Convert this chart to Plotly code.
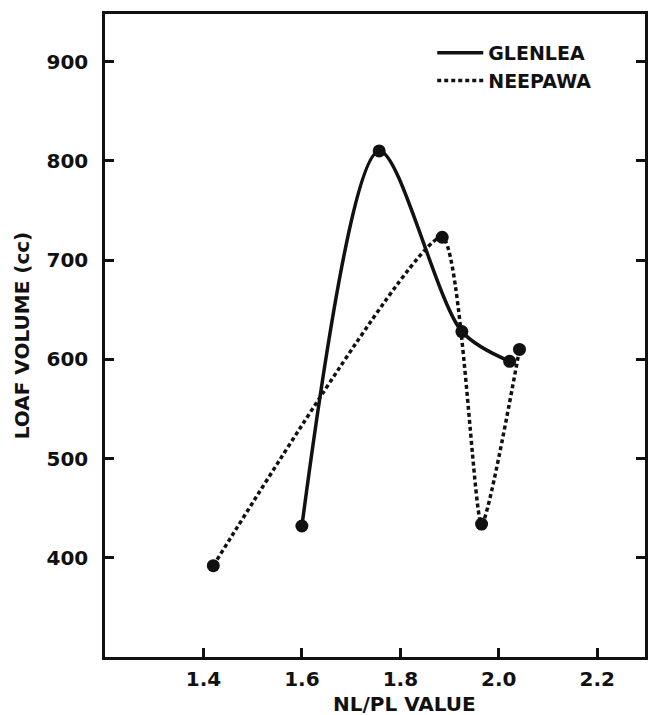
import plotly.graph_objects as go

# Data
glenlea_x = [1.60, 1.757, 1.925, 2.022]
glenlea_y = [432, 810, 628, 598]
neepawa_x = [1.42, 1.885, 1.965, 2.042]
neepawa_y = [392, 723, 434, 610]

x_ticks = [1.4, 1.6, 1.8, 2.0, 2.2]
x_ticklabels = ["1.4", "1.6", "1.8", "2.0", "2.2"]
y_ticks = [400, 500, 600, 700, 800, 900]
y_ticklabels = ["400", "500", "600", "700", "800", "900"]

FONT = "DejaVu Sans"
BLACK = "#111111"

fig = go.Figure()

fig.add_trace(go.Scatter(
    x=glenlea_x, y=glenlea_y, mode="lines", name="GLENLEA",
    line=dict(color=BLACK, width=3.5, shape="spline", smoothing=0.85),
))
fig.add_trace(go.Scatter(
    x=neepawa_x, y=neepawa_y, mode="lines", name="NEEPAWA",
    line=dict(color=BLACK, width=3.5, dash="4px,3px", shape="spline", smoothing=0.5),
))
fig.add_trace(go.Scatter(
    x=glenlea_x + neepawa_x, y=glenlea_y + neepawa_y, mode="markers",
    showlegend=False, marker=dict(color=BLACK, size=13),
))

fig.add_annotation(
    text="NL/PL VALUE", xref="paper", yref="paper", x=0.554, y=0,
    xanchor="center", yanchor="middle", yshift=-47, showarrow=False,
    font=dict(family=FONT, size=20, color=BLACK, weight="bold"),
)

fig.update_layout(
    width=649, height=715,
    margin=dict(l=105, r=1, t=14, b=58),
    paper_bgcolor="white", plot_bgcolor="white",
    font=dict(family=FONT, color=BLACK, size=19, weight="bold"),
    legend=dict(
        x=0.606, y=0.969, xanchor="left", yanchor="top",
        font=dict(family=FONT, size=19, color=BLACK, weight="bold"),
        bgcolor="rgba(0,0,0,0)", tracegroupgap=0, itemwidth=46,
    ),
    xaxis=dict(
        range=[1.2, 2.297], tickvals=x_ticks, ticktext=x_ticklabels,
        showgrid=False, zeroline=False, showline=True, linecolor=BLACK, linewidth=2.5,
        mirror=True, ticks="inside", ticklen=9, tickwidth=2.5, tickcolor=BLACK,
        ticklabelstandoff=2,
        tickfont=dict(family=FONT, size=20, color=BLACK, weight="bold"),
    ),
    yaxis=dict(
        range=[300, 948], tickvals=y_ticks, ticktext=y_ticklabels,
        showgrid=False, zeroline=False, showline=True, linecolor=BLACK, linewidth=2.5,
        mirror="ticks", ticks="inside", ticklen=9, tickwidth=2.5, tickcolor=BLACK,
        ticklabelstandoff=10,
        tickfont=dict(family=FONT, size=20, color=BLACK, weight="bold"),
        title=dict(text="LOAF VOLUME (cc)", standoff=12,
                   font=dict(family=FONT, size=20, color=BLACK, weight="bold")),
    ),
)

fig.write_html("out.html")
